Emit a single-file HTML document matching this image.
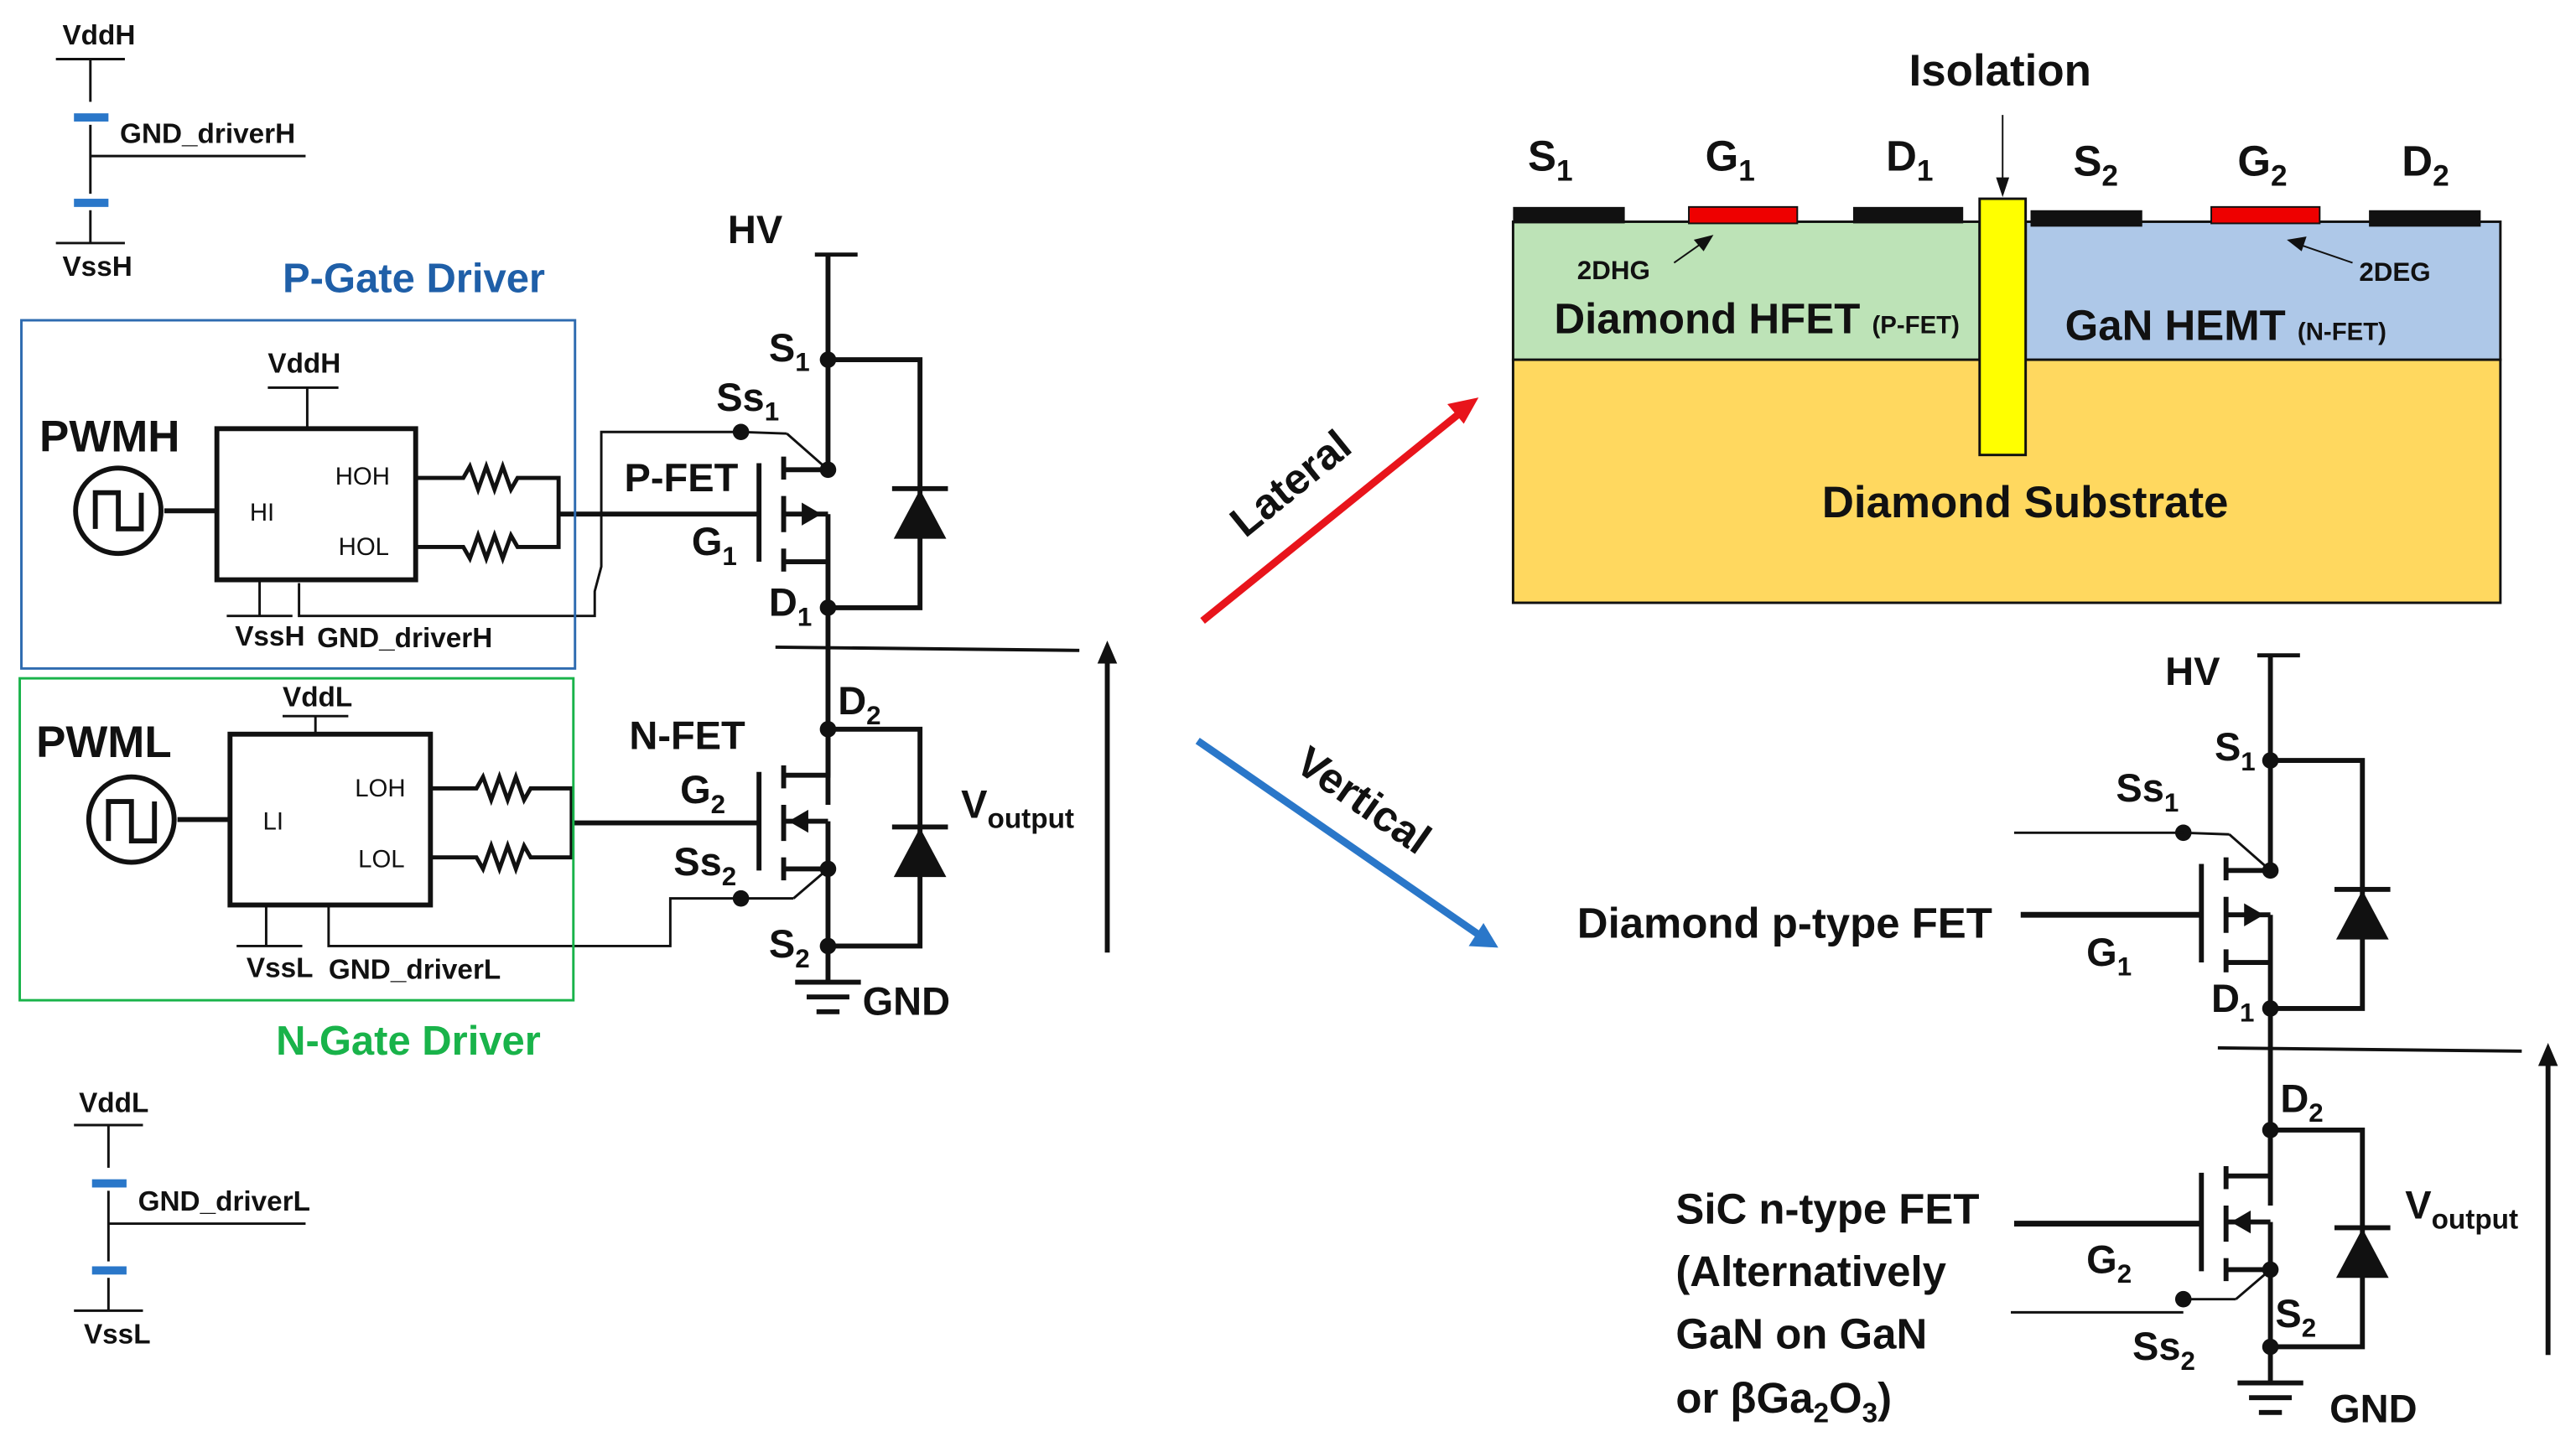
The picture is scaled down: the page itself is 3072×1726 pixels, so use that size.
<!DOCTYPE html>
<html><head><meta charset="utf-8"><style>
html,body{margin:0;padding:0;background:#fff;}
svg{display:block;}
text{font-family:"Liberation Sans",sans-serif;font-weight:bold;fill:#111;}
</style></head><body>
<svg width="3072" height="1726" viewBox="0 0 1568 881" xmlns="http://www.w3.org/2000/svg">
<defs>
<g id="bridge" stroke="#111" fill="none">
  <line x1="504" y1="155" x2="504" y2="286" stroke-width="3"/>
  <line x1="504" y1="313" x2="504" y2="342" stroke-width="3"/>
  <line x1="504" y1="342" x2="504" y2="490" stroke-width="3"/>
  <line x1="504" y1="444" x2="504" y2="472" stroke-width="3"/>
  <line x1="504" y1="500" x2="504" y2="598" stroke-width="3"/>
  <line x1="496" y1="155" x2="522" y2="155" stroke-width="2.5"/>
  <line x1="462" y1="282" x2="462" y2="342" stroke-width="3"/>
  <line x1="477" y1="278" x2="477" y2="292" stroke-width="3"/>
  <line x1="477" y1="302" x2="477" y2="324" stroke-width="3"/>
  <line x1="477" y1="334" x2="477" y2="348" stroke-width="3"/>
  <line x1="477" y1="286" x2="504" y2="286" stroke-width="3"/>
  <line x1="477" y1="313" x2="504" y2="313" stroke-width="3"/>
  <line x1="477" y1="342" x2="504" y2="342" stroke-width="3"/>
  <polyline points="504,219 560,219 560,370 504,370" stroke-width="3"/>
  <line x1="462" y1="470" x2="462" y2="530" stroke-width="3"/>
  <line x1="477" y1="466" x2="477" y2="480" stroke-width="3"/>
  <line x1="477" y1="490" x2="477" y2="512" stroke-width="3"/>
  <line x1="477" y1="522" x2="477" y2="536" stroke-width="3"/>
  <polyline points="477,472 504,472 504,444" stroke-width="3"/>
  <polyline points="477,500 504,500" stroke-width="3"/>
  <line x1="477" y1="529" x2="504" y2="529" stroke-width="3"/>
  <polyline points="504,444 560,444 560,576 504,576" stroke-width="3"/>
  <line x1="472" y1="394" x2="657" y2="396" stroke-width="2"/>
  <line x1="484" y1="598" x2="524" y2="598" stroke-width="3"/>
  <line x1="491" y1="607" x2="517" y2="607" stroke-width="3"/>
  <line x1="497" y1="616" x2="511" y2="616" stroke-width="3"/>
  <line x1="451" y1="263" x2="479" y2="264" stroke-width="1.5"/>
  <line x1="479" y1="264" x2="504" y2="286" stroke-width="1.5"/>
  <line x1="504" y1="529" x2="483" y2="547" stroke-width="1.5"/>
  <line x1="451" y1="547" x2="483" y2="547" stroke-width="1.5"/>
</g>
<g id="bridgefill" fill="#111" stroke="none">
  <polygon points="488,306 488,320 500,313"/>
  <polygon points="544,328 576,328 560,298"/>
  <rect x="543" y="296" width="34" height="3"/>
  <polygon points="492,493 492,507 480,500"/>
  <polygon points="544,534 576,534 560,504"/>
  <rect x="543" y="502" width="34" height="3"/>
  <circle cx="504" cy="219" r="5"/><circle cx="504" cy="286" r="5"/>
  <circle cx="504" cy="370" r="5"/><circle cx="504" cy="444" r="5"/>
  <circle cx="504" cy="529" r="5"/><circle cx="504" cy="576" r="5"/>
  <circle cx="451" cy="263" r="5"/><circle cx="451" cy="547" r="5"/>
</g>
</defs>

<use href="#bridge"/><use href="#bridgefill"/>
<line x1="674" y1="580" x2="674" y2="400" stroke="#111" stroke-width="3"/>
<polygon points="668,404 680,404 674,390" fill="#111"/>

<g transform="translate(878,244)"><use href="#bridge"/><use href="#bridgefill"/></g>
<line x1="1551" y1="825" x2="1551" y2="645" stroke="#111" stroke-width="3"/>
<polygon points="1545,649 1557,649 1551,635" fill="#111"/>
<line x1="1226" y1="507" x2="1329" y2="507" stroke="#111" stroke-width="1.5"/>
<line x1="1230" y1="557" x2="1340" y2="557" stroke="#111" stroke-width="3.5"/>
<line x1="1226" y1="745" x2="1340" y2="745" stroke="#111" stroke-width="3.5"/>
<line x1="1224" y1="799" x2="1329" y2="799" stroke="#111" stroke-width="1.5"/>

<g stroke="#111" fill="none">
<polyline points="451,263 366,263 366,345 362,360 362,375 182,375 182,355" stroke-width="1.5"/>
<polyline points="451,547 408,547 408,576 200,576 200,552" stroke-width="1.5"/>
<line x1="340" y1="313" x2="462" y2="313" stroke-width="3"/>
<line x1="348" y1="501" x2="462" y2="501" stroke-width="3"/>
<rect x="132" y="261" width="121" height="92" stroke-width="3"/>
<line x1="187" y1="261" x2="187" y2="236" stroke-width="1.5"/>
<line x1="163" y1="236" x2="206" y2="236" stroke-width="1.5"/>
<line x1="158" y1="353" x2="158" y2="375" stroke-width="1.5"/>
<line x1="138" y1="375" x2="178" y2="375" stroke-width="1.5"/>
<line x1="100" y1="311" x2="132" y2="311" stroke-width="3"/>
<circle cx="72" cy="311" r="26" stroke-width="3"/>
<polyline points="58,322 58,300 72,300 72,322 86,322 86,300" stroke-width="3"/>
<polyline points="253,291 282,291 286,284 291,298 296,284 301,298 306,284 311,298 315,291 340,291 340,333 315,333 311,326 306,340 301,326 296,340 291,326 286,340 282,333 253,333" stroke-width="2.5"/>
<rect x="140" y="447" width="122" height="104" stroke-width="3"/>
<line x1="192" y1="447" x2="192" y2="436" stroke-width="1.5"/>
<line x1="172" y1="436" x2="212" y2="436" stroke-width="1.5"/>
<line x1="162" y1="551" x2="162" y2="576" stroke-width="1.5"/>
<line x1="144" y1="576" x2="184" y2="576" stroke-width="1.5"/>
<line x1="108" y1="499" x2="140" y2="499" stroke-width="3"/>
<circle cx="80" cy="499" r="26" stroke-width="3"/>
<polyline points="66,512 66,488 80,488 80,512 94,512 94,488" stroke-width="3"/>
<polyline points="262,480 290,480 294,473 299,487 304,473 309,487 314,473 319,487 323,480 348,480 348,522 323,522 319,515 314,529 309,515 304,529 299,515 294,529 290,522 262,522" stroke-width="2.5"/>
<rect x="13" y="195" width="337" height="212" stroke="#2e6bb0" stroke-width="1.5"/>
<rect x="12" y="413" width="337" height="196" stroke="#19b34a" stroke-width="1.5"/>
<line x1="34" y1="36" x2="76" y2="36" stroke-width="1.5"/>
<line x1="55" y1="36" x2="55" y2="62" stroke-width="1.5"/>
<line x1="55" y1="76" x2="55" y2="118" stroke-width="1.5"/>
<line x1="55" y1="95" x2="186" y2="95" stroke-width="1.5"/>
<line x1="55" y1="128" x2="55" y2="148" stroke-width="1.5"/>
<line x1="34" y1="148" x2="76" y2="148" stroke-width="1.5"/>
<line x1="45" y1="685" x2="87" y2="685" stroke-width="1.5"/>
<line x1="66" y1="685" x2="66" y2="711" stroke-width="1.5"/>
<line x1="66" y1="725" x2="66" y2="768" stroke-width="1.5"/>
<line x1="66" y1="745" x2="186" y2="745" stroke-width="1.5"/>
<line x1="66" y1="778" x2="66" y2="798" stroke-width="1.5"/>
<line x1="45" y1="798" x2="87" y2="798" stroke-width="1.5"/>
</g>
<g fill="#2a77c9">
<rect x="45" y="69" width="21" height="5"/><rect x="45" y="121" width="21" height="5"/>
<rect x="56" y="718" width="21" height="5"/><rect x="56" y="771" width="21" height="5"/>
</g>

<line x1="732" y1="378" x2="888" y2="252" stroke="#e8141b" stroke-width="4.5"/>
<polygon points="900,242 881,246 891,258" fill="#e8141b"/>
<line x1="729" y1="451" x2="900" y2="569" stroke="#2a77c9" stroke-width="4.5"/>
<polygon points="912,577 894,576 903,562" fill="#2a77c9"/>
<text transform="translate(758,328) rotate(-39)" font-size="26">Lateral</text>
<text transform="translate(787,468) rotate(35)" font-size="26">Vertical</text>

<rect x="921" y="219" width="601" height="148" fill="#ffd85f" stroke="#111" stroke-width="1.5"/>
<rect x="921" y="135" width="284" height="84" fill="#bde3b7" stroke="#111" stroke-width="1.5"/>
<rect x="1233" y="135" width="289" height="84" fill="#aec8e8" stroke="#111" stroke-width="1.5"/>
<rect x="1205" y="121" width="28" height="156" fill="#ffff00" stroke="#111" stroke-width="1.5"/>
<rect x="921" y="126" width="68" height="10" fill="#111"/>
<rect x="1028" y="126" width="66" height="10" fill="#ee0000" stroke="#111" stroke-width="1"/>
<rect x="1128" y="126" width="67" height="10" fill="#111"/>
<rect x="1236" y="128" width="68" height="10" fill="#111"/>
<rect x="1346" y="126" width="66" height="10" fill="#ee0000" stroke="#111" stroke-width="1"/>
<rect x="1442" y="128" width="68" height="10" fill="#111"/>
<line x1="1219" y1="70" x2="1219" y2="112" stroke="#111" stroke-width="1"/>
<polygon points="1215,108 1223,108 1219,120" fill="#111"/>
<line x1="1019" y1="160" x2="1036" y2="148" stroke="#111" stroke-width="1"/>
<polygon points="1043,143 1031,146 1037,153" fill="#111"/>
<line x1="1432" y1="160" x2="1400" y2="149" stroke="#111" stroke-width="1"/>
<polygon points="1392,146 1404,144 1401,153" fill="#111"/>

<g font-size="26">
<text x="930" y="104">S<tspan font-size="18" dy="6">1</tspan></text>
<text x="1038" y="104">G<tspan font-size="18" dy="6">1</tspan></text>
<text x="1148" y="104">D<tspan font-size="18" dy="6">1</tspan></text>
<text x="1262" y="107">S<tspan font-size="18" dy="6">2</tspan></text>
<text x="1362" y="107">G<tspan font-size="18" dy="6">2</tspan></text>
<text x="1462" y="107">D<tspan font-size="18" dy="6">2</tspan></text>
<text x="1162" y="52" font-size="27">Isolation</text>
</g>
<text x="960" y="170" font-size="16">2DHG</text>
<text x="1436" y="171" font-size="16">2DEG</text>
<text x="946" y="203" font-size="26">Diamond HFET <tspan font-size="15">(P-FET)</tspan></text>
<text x="1257" y="207" font-size="26">GaN HEMT <tspan font-size="15">(N-FET)</tspan></text>
<text x="1109" y="315" font-size="27">Diamond Substrate</text>

<g font-size="24">
<text x="443" y="148">HV</text>
<text x="468" y="220">S<tspan font-size="16" dy="6">1</tspan></text>
<text x="436" y="250">Ss<tspan font-size="16" dy="6">1</tspan></text>
<text x="380" y="299">P-FET</text>
<text x="421" y="338">G<tspan font-size="16" dy="6">1</tspan></text>
<text x="468" y="375">D<tspan font-size="16" dy="6">1</tspan></text>
<text x="510" y="435">D<tspan font-size="16" dy="6">2</tspan></text>
<text x="383" y="456">N-FET</text>
<text x="414" y="489">G<tspan font-size="16" dy="6">2</tspan></text>
<text x="410" y="533">Ss<tspan font-size="16" dy="6">2</tspan></text>
<text x="468" y="583">S<tspan font-size="16" dy="6">2</tspan></text>
<text x="525" y="618">GND</text>
<text x="585" y="498">V<tspan font-size="17" dy="6">output</tspan></text>
<text x="24" y="275" font-size="27">PWMH</text>
<text x="22" y="461" font-size="27">PWML</text>
</g>
<text x="172" y="178" font-size="25" style="fill:#1f5fa8">P-Gate Driver</text>
<text x="168" y="642" font-size="25" style="fill:#19b34a">N-Gate Driver</text>
<g font-size="17">
<text x="38" y="27">VddH</text>
<text x="73" y="87">GND_driverH</text>
<text x="38" y="168">VssH</text>
<text x="163" y="227">VddH</text>
<text x="143" y="393">VssH</text>
<text x="193" y="394">GND_driverH</text>
<text x="172" y="430">VddL</text>
<text x="150" y="595">VssL</text>
<text x="200" y="596">GND_driverL</text>
<text x="48" y="677">VddL</text>
<text x="84" y="737">GND_driverL</text>
<text x="51" y="818">VssL</text>
</g>
<g font-size="15">
<text x="204" y="295" style="font-weight:normal">HOH</text>
<text x="206" y="338" style="font-weight:normal">HOL</text>
<text x="152" y="317" style="font-weight:normal">HI</text>
<text x="216" y="485" style="font-weight:normal">LOH</text>
<text x="218" y="528" style="font-weight:normal">LOL</text>
<text x="160" y="505" style="font-weight:normal">LI</text>
</g>

<g font-size="24">
<text x="1318" y="417">HV</text>
<text x="1348" y="463">S<tspan font-size="16" dy="6">1</tspan></text>
<text x="1288" y="488">Ss<tspan font-size="16" dy="6">1</tspan></text>
<text x="960" y="571" font-size="26">Diamond p-type FET</text>
<text x="1270" y="588">G<tspan font-size="16" dy="6">1</tspan></text>
<text x="1346" y="616">D<tspan font-size="16" dy="6">1</tspan></text>
<text x="1388" y="677">D<tspan font-size="16" dy="6">2</tspan></text>
<g font-size="26">
<text x="1020" y="745">SiC n-type FET</text>
<text x="1020" y="783">(Alternatively</text>
<text x="1020" y="821">GaN on GaN</text>
<text x="1020" y="860">or βGa<tspan font-size="17" dy="6">2</tspan><tspan dy="-6">O</tspan><tspan font-size="17" dy="6">3</tspan><tspan dy="-6">)</tspan></text>
</g>
<text x="1270" y="775">G<tspan font-size="16" dy="6">2</tspan></text>
<text x="1385" y="808">S<tspan font-size="16" dy="6">2</tspan></text>
<text x="1298" y="828">Ss<tspan font-size="16" dy="6">2</tspan></text>
<text x="1418" y="866">GND</text>
<text x="1464" y="742">V<tspan font-size="17" dy="6">output</tspan></text>
</g>
</svg>
</body></html>
